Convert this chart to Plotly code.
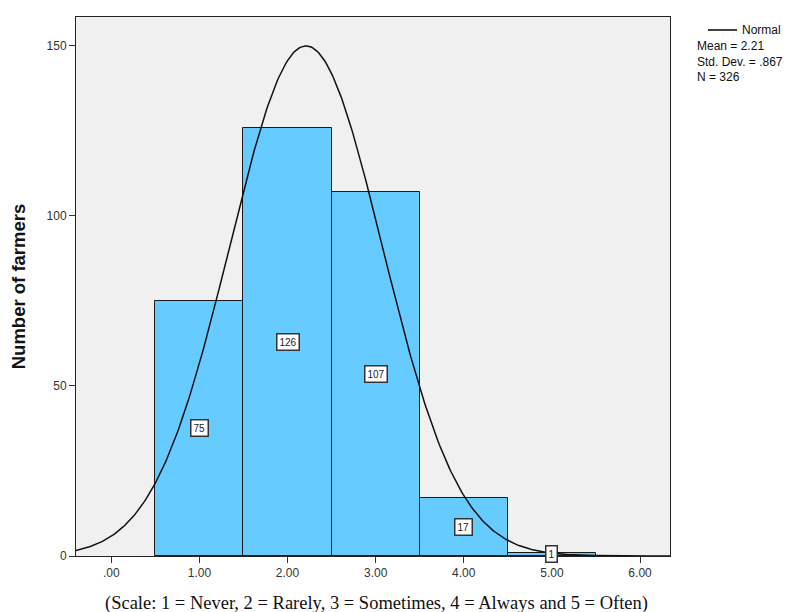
import numpy as np
import plotly.graph_objects as go

bin_centers = [1, 2, 3, 4, 5]
counts = [75, 126, 107, 17, 1]
bin_width = 1.0
MEAN = 2.21
SD = 0.867
N = 326
x_tickvals = [0, 1, 2, 3, 4, 5, 6]
x_ticktext = [".00", "1.00", "2.00", "3.00", "4.00", "5.00", "6.00"]
y_tickvals = [0, 50, 100, 150]

xs = np.linspace(-0.4, 6.34, 400)
ys = N * bin_width / (SD * np.sqrt(2 * np.pi)) * np.exp(-0.5 * ((xs - MEAN) / SD) ** 2)

fig = go.Figure()
fig.add_trace(go.Bar(
    x=bin_centers, y=counts, width=bin_width,
    marker=dict(color="#66CCFF", line=dict(color="#1a1a1a", width=1)),
    showlegend=False, hoverinfo="skip"))
fig.add_trace(go.Scatter(x=xs, y=ys, mode="lines",
                         line=dict(color="#111111", width=1.5),
                         showlegend=False, hoverinfo="skip"))

for c, v in zip(bin_centers, counts):
    fig.add_annotation(x=c, y=v / 2, text=str(v), showarrow=False,
                       font=dict(family="Arial, Liberation Sans", size=10, color="#222"),
                       bgcolor="white", bordercolor="#333", borderwidth=1.5, borderpad=2,
                       xref="x", yref="y")

# plot area in page px: x 76..670, y 17..556 ; page has 8px body margin
PW, PH = 594, 539
def px(x):
    return (x - 76) / PW
def py(y):
    return (556 - y) / PH

fig.add_shape(type="line", xref="paper", yref="paper",
              x0=px(708), x1=px(737), y0=py(30), y1=py(30),
              line=dict(color="black", width=1.5))
fig.add_annotation(xref="paper", yref="paper", x=px(740), y=py(30),
                   text="Normal", showarrow=False, xanchor="left", yanchor="middle",
                   font=dict(family="Arial, Liberation Sans", size=12, color="#111"))
fig.add_annotation(xref="paper", yref="paper", x=px(695), y=py(37),
                   text=f"Mean = {MEAN}<br>Std. Dev. = .867<br>N = {N}",
                   showarrow=False, xanchor="left", yanchor="top", align="left",
                   font=dict(family="Arial, Liberation Sans", size=12, color="#111"))
# x-axis title placed as annotation so margins stay fixed
fig.add_annotation(xref="paper", yref="paper", x=px(376), y=py(603),
                   text="(Scale: 1 = Never, 2 = Rarely, 3 = Sometimes, 4 = Always and 5 = Often)",
                   showarrow=False, xanchor="center", yanchor="middle",
                   font=dict(family="Liberation Serif, Times New Roman", size=18.5, color="#111"))

fig.update_layout(
    width=784, height=604,
    margin=dict(l=68, r=122, t=9, b=56),
    paper_bgcolor="white", plot_bgcolor="#F0F0F0",
    bargap=0,
    font=dict(family="Arial, Liberation Sans", size=12, color="#333"),
    xaxis=dict(range=[-0.4, 6.34], tickvals=x_tickvals, ticktext=x_ticktext,
               ticks="outside", ticklen=6, tickcolor="#333", showgrid=False, zeroline=False,
               showline=True, linecolor="#222", linewidth=1, mirror=True, automargin=False,
               tickfont=dict(size=12, color="#333")),
    yaxis=dict(range=[0, 158.5], tickvals=y_tickvals, ticks="outside", ticklen=6,
               tickcolor="#333", showgrid=False, zeroline=False, automargin=False,
               showline=True, linecolor="#222", linewidth=1, mirror=True,
               tickfont=dict(size=12, color="#333"),
               title=dict(text="<b>Number of farmers</b>",
                          font=dict(family="Arial, Liberation Sans", size=18.5, color="#111"),
                          standoff=16)),
)

fig.write_html("out.html")
